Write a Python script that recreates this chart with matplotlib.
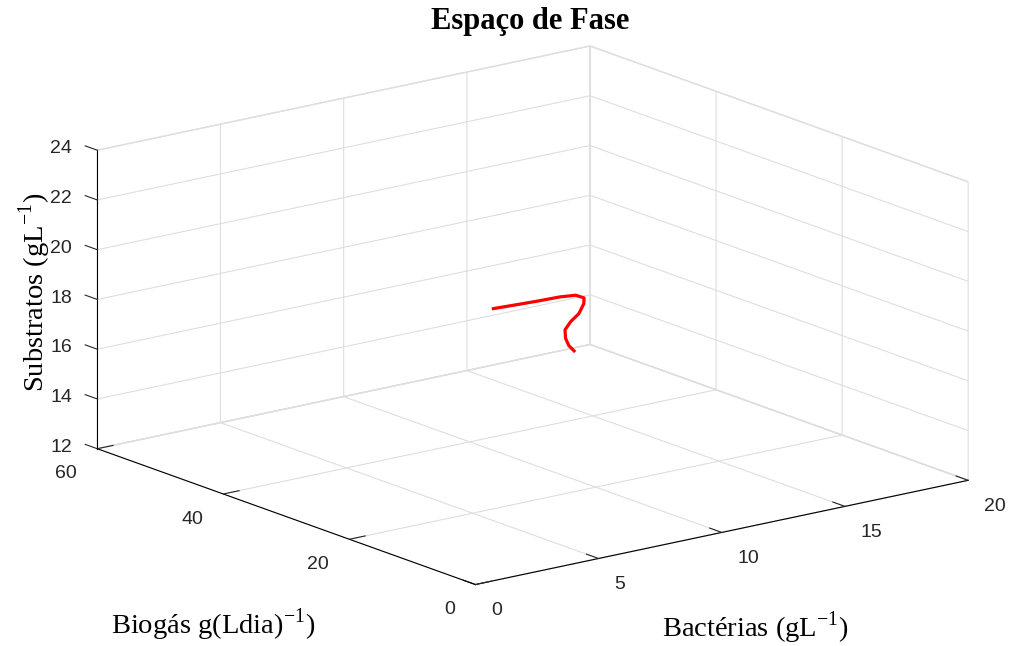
import numpy as np
import matplotlib
matplotlib.use("Agg")
from matplotlib import pyplot as plt

# Trajectory (Bacterias, Biogas, Substratos)
bacterias = [0.73, 1.66, 2.66, 3.68, 4.46, 4.92, 5.04, 4.97, 4.76, 4.66, 4.81, 5.07, 5.41]
biogas = [0.0, 0.3, 0.6, 1.0, 1.5, 2.0, 2.5, 3.0, 3.5, 4.0, 4.5, 5.0, 5.5]
substratos = [22.94, 22.86, 22.78, 22.70, 22.56, 22.31, 22.01, 21.58, 21.25, 20.90, 20.48, 20.09, 19.76]

xTicks = [0, 5, 10, 15, 20]
yTicks = [0, 20, 40, 60]
zTicks = [12, 14, 16, 18, 20, 22, 24]

plt.rcParams["font.family"] = "Liberation Sans"
plt.rcParams["mathtext.fontset"] = "custom"
plt.rcParams["mathtext.rm"] = "Liberation Serif"

W, H = 1014, 646
fig = plt.figure(figsize=(W / 100, H / 100), dpi=100)
ax = fig.add_subplot(111, projection="3d", proj_type="ortho")
ax.set_position([17 / W, -1 / H, 1.0, 1.0])

ax.plot(bacterias, biogas, substratos, color="red", linewidth=2.3)

ax.set_xlim(0, 20)
ax.set_ylim(0, 60)
ax.set_zlim(12, 24)
ax.set_xticks(xTicks)
ax.set_yticks(yTicks)
ax.set_zticks(zTicks)
ax.set_box_aspect((1, 1, 0.5), zoom=1.40)
ax.view_init(elev=16, azim=-127.5)

# z ticks point along the y direction, like the original
axInfo = {k: dict(v) for k, v in ax.zaxis._AXINFO.items()}
axInfo["z"]["tickdir"] = 1
ax.zaxis._AXINFO = axInfo

gridColor = "#dedede"
for axis in (ax.xaxis, ax.yaxis, ax.zaxis):
    axis.set_pane_color((1, 1, 1, 1))
    axis.pane.set_edgecolor(gridColor)
    axis._axinfo["grid"]["color"] = gridColor
    axis._axinfo["grid"]["linewidth"] = 0.8
    axis._axinfo["axisline"]["color"] = "#262626"
    axis._axinfo["axisline"]["linewidth"] = 1.0
    axis._axinfo["tick"]["inward_factor"] = 0.0
    axis._axinfo["tick"]["outward_factor"] = 0.4
    axis.set_tick_params(labelsize=14, colors="#262626", pad=2)

for t in ax.xaxis.get_major_ticks():
    t.label1.set_horizontalalignment("left")
for t in ax.yaxis.get_major_ticks():
    t.label1.set_horizontalalignment("right")
for t in ax.zaxis.get_major_ticks():
    t.label1.set_verticalalignment("center")

# Axis labels and title placed as figure texts (horizontal, like the original)
serif = "Liberation Serif"
fig.text(755 / W, 1 - 628 / H, r"Bactérias (gL$^{\mathregular{-1}}$)",
         fontsize=20.5, family=serif, ha="center", va="center")
fig.text(213 / W, 1 - 625 / H, r"Biogás g(Ldia)$^{\mathregular{-1}}$)",
         fontsize=20.5, family=serif, ha="center", va="center")
fig.text(35 / W, 1 - 292 / H, r"Substratos (gL$^{\mathregular{-1}}$)",
         fontsize=20.5, family=serif, ha="center", va="center", rotation=90)
fig.text(530 / W, 1 - 22 / H, "Espaço de Fase",
         fontsize=22, family=serif, fontweight="bold", ha="center", va="center")

fig.savefig("out.png", dpi=100)
